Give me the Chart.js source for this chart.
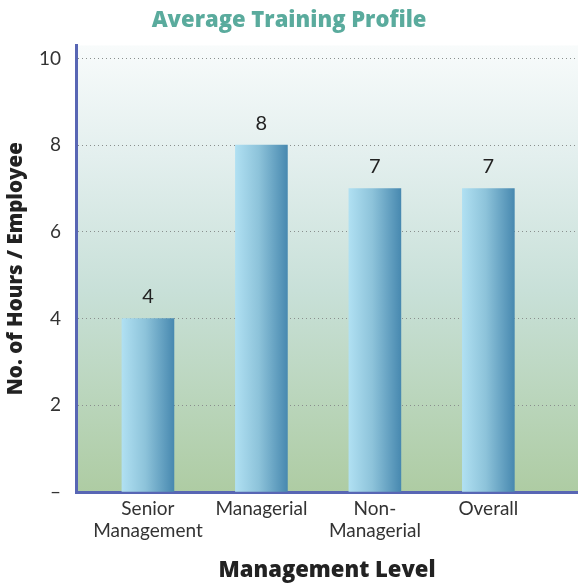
<!DOCTYPE html>
<html>
<head>
<meta charset="utf-8">
<script src="https://cdn.jsdelivr.net/npm/chart.js@4"></script>
<style>
  html, body { margin: 0; padding: 0; background: #fff; }
  #wrap { width: 578px; height: 587px; }
</style>
</head>
<body>
<div id="wrap"><canvas id="chart" width="578" height="587"></canvas></div>
<script>
// ---- data ----
const categories = [['Senior', 'Management'], 'Managerial', ['Non-', 'Managerial'], 'Overall'];
const hours = [4, 8, 7, 7];
const yTicks = [0, 2, 4, 6, 8, 10];

const FONT = 'Lato, "Open Sans", sans-serif';
const HEAVY = '"Open Sans", Lato, sans-serif';
const AXIS_BLUE = '#5866b4';
const BAR_W = 52;

// vertical wash behind the plot
const plotBackground = {
    id: 'plotBackground',
    beforeDraw(chart) {
        const { ctx, chartArea: a } = chart;
        const g = ctx.createLinearGradient(0, a.top, 0, a.bottom);
        g.addColorStop(0, '#f8fbfb');
        g.addColorStop(0.25, '#e3efee');
        g.addColorStop(0.55, '#c8e0d8');
        g.addColorStop(1, '#aecca3');
        ctx.save();
        ctx.fillStyle = g;
        ctx.fillRect(a.left, a.top, a.right - a.left, a.bottom - a.top);
        ctx.restore();
    }
};

// value labels above the bars
const valueLabels = {
    id: 'valueLabels',
    afterDatasetsDraw(chart) {
        const { ctx } = chart;
        const meta = chart.getDatasetMeta(0);
        ctx.save();
        ctx.font = '20px ' + FONT;
        ctx.fillStyle = '#222';
        ctx.textAlign = 'center';
        ctx.textBaseline = 'middle';
        meta.data.forEach((bar, i) => {
            ctx.fillText(String(hours[i]), bar.x, bar.y - 22);
        });
        ctx.restore();
    }
};

// horizontal light-to-dark shading across each bar
function barFill(context) {
    const chart = context.chart;
    const xs = chart.scales && chart.scales.x;
    if (!xs || context.dataIndex === undefined) return '#7fb6d2';
    const cx = xs.getPixelForValue(context.dataIndex);
    if (!Number.isFinite(cx)) return '#7fb6d2';
    const g = chart.ctx.createLinearGradient(cx - BAR_W / 2, 0, cx + BAR_W / 2, 0);
    g.addColorStop(0, '#b0e0f2');
    g.addColorStop(0.45, '#8dc3da');
    g.addColorStop(1, '#4889b0');
    return g;
}

new Chart(document.getElementById('chart'), {
    type: 'bar',
    data: {
        datasets: [{
            data: hours.map((v, i) => ({ x: i, y: v })),
            backgroundColor: barFill,
            borderWidth: 0,
            barThickness: BAR_W
        }]
    },
    plugins: [plotBackground, valueLabels],
    options: {
        responsive: false,
        animation: false,
        layout: { padding: 0 },
        plugins: {
            legend: { display: false },
            tooltip: { enabled: false },
            title: {
                display: true,
                text: 'Average Training Profile',
                color: '#5aab9d',
                font: { family: HEAVY, size: 22, weight: '800' },
                padding: { top: 8, bottom: 11 }
            }
        },
        scales: {
            x: {
                type: 'linear',
                offset: false,
                min: -0.634,
                max: 3.79,
                afterFit(scale) { scale.height = 95; },
                grid: { display: false, drawTicks: false },
                border: { display: true, color: AXIS_BLUE, width: 3 },
                ticks: {
                    stepSize: 1,
                    includeBounds: false,
                    autoSkip: false,
                    maxRotation: 0,
                    padding: 5,
                    color: '#333',
                    font: { family: FONT, size: 19 },
                    callback: v => Number.isInteger(v) && categories[v] !== undefined ? categories[v] : ''
                },
                title: {
                    display: true,
                    text: 'Management Level',
                    color: '#222',
                    font: { family: HEAVY, size: 22, weight: '800' },
                    padding: { top: 0, bottom: 3 }
                }
            },
            y: {
                min: 0,
                max: 10.3,
                afterFit(scale) { scale.width = 76; },
                afterBuildTicks(scale) { scale.ticks = yTicks.map(v => ({ value: v })); },
                grid: {
                    drawTicks: false,
                    color: '#8a8f8e',
                    lineWidth: 1
                },
                border: { display: true, color: AXIS_BLUE, width: 3, dash: [1, 3] },
                ticks: {
                    padding: 15,
                    color: '#333',
                    font: { family: FONT, size: 19 },
                    callback: v => v === 0 ? '\u2013' : String(v)
                },
                title: {
                    display: true,
                    text: 'No. of Hours / Employee',
                    color: '#222',
                    font: { family: HEAVY, size: 20.5, weight: '800' },
                    padding: { top: 4, bottom: 0 }
                }
            }
        }
    }
});
</script>
</body>
</html>
